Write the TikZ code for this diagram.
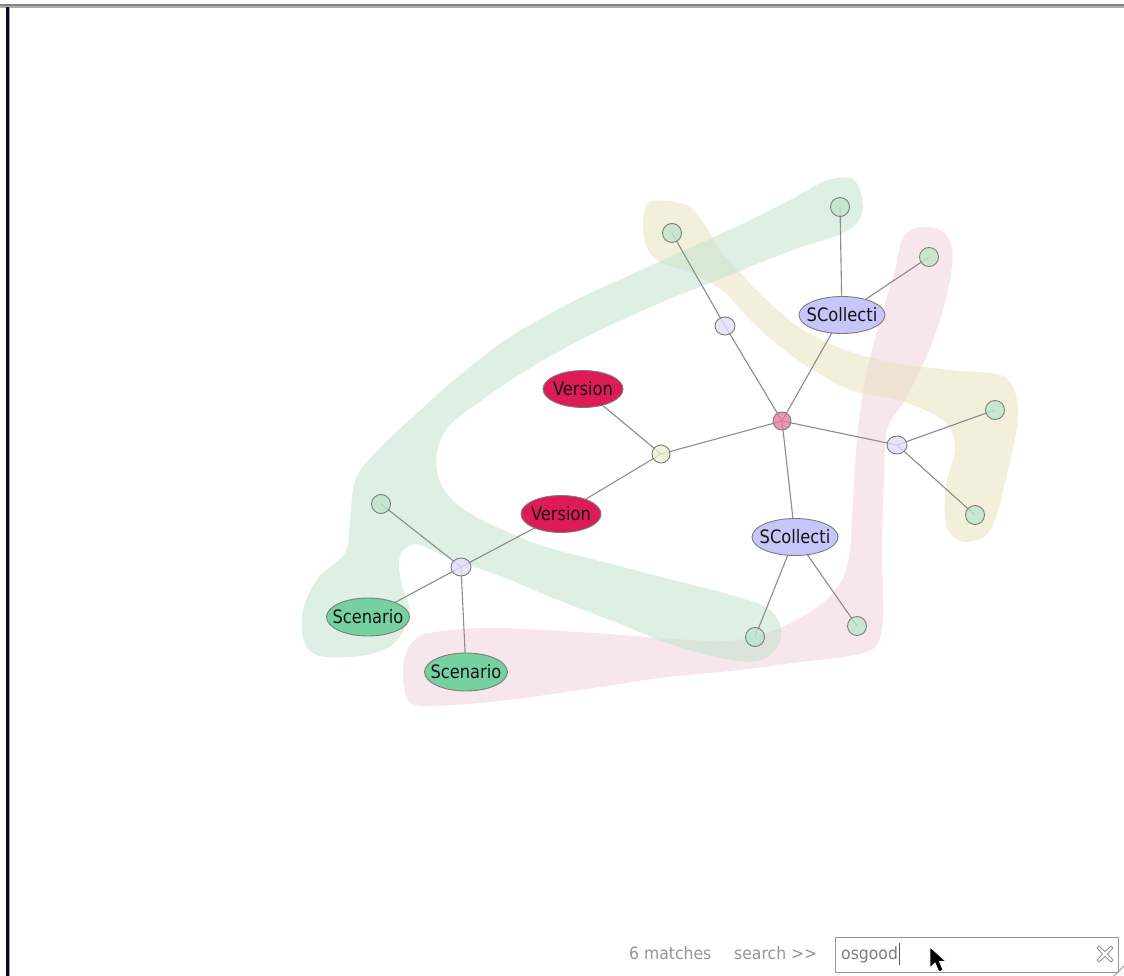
\documentclass[tikz,border=0pt]{standalone}
\usepackage{fontspec}
\usetikzlibrary{shapes.geometric}
\newfontfamily\lblfont[FakeStretch=0.88]{DejaVu Sans}
\newfontfamily\uifont[FakeStretch=0.92]{DejaVu Sans}
\newcommand{\lbl}[1]{\makebox[0pt][c]{#1}}
\definecolor{edgegray}{RGB}{140,140,140}
\definecolor{nodeborder}{RGB}{125,125,125}
\definecolor{labeltext}{RGB}{20,20,20}
\definecolor{versionred}{RGB}{221,28,86}
\definecolor{scollblue}{RGB}{198,198,250}
\definecolor{scengreen}{RGB}{118,208,160}
\definecolor{dotgreen}{RGB}{190,230,205}
\definecolor{dotlav}{RGB}{222,222,250}
\definecolor{dotpink}{RGB}{232,125,158}
\definecolor{dotyellow}{RGB}{232,240,210}
\definecolor{blobgreen}{RGB}{195,227,205}
\definecolor{blobyellow}{RGB}{233,226,190}
\definecolor{blobpink}{RGB}{244,210,224}
\definecolor{uigray}{RGB}{150,150,150}
\definecolor{framenavy}{RGB}{8,8,40}
\pgfdeclarelayer{paper}
\pgfdeclarelayer{blobs}
\pgfdeclarelayer{edges}
\pgfsetlayers{paper,blobs,edges,main}
\tikzset{
  conn/.style={draw=edgegray, line width=1.1pt},
  bigell/.style={ellipse, draw=nodeborder, line width=0.9pt, minimum width=80pt, minimum height=37pt, inner sep=0pt, text=labeltext, font=\lblfont\fontsize{18.5}{22}\selectfont},
  dotnode/.style={circle, draw=nodeborder, line width=0.9pt, minimum size=19pt, inner sep=0pt, fill opacity=0.8},
  lavnode/.style={ellipse, draw=nodeborder, line width=0.9pt, minimum width=20pt, minimum height=18pt, inner sep=0pt, fill=dotlav, fill opacity=0.8},
  blob/.style={fill opacity=0.55},
  uitext/.style={anchor=base west, inner sep=0pt, text=uigray, font=\uifont\fontsize{17}{20}\selectfont},
}
\begin{document}
\begin{tikzpicture}[x=1pt,y=-1pt]
\useasboundingbox (0,0) rectangle (1124,976);
\begin{pgfonlayer}{paper}
\fill[white] (0,0) rectangle (1124,976);
\end{pgfonlayer}
% frame
\draw[color={rgb,255:red,130;green,130;blue,130}, line width=1.2pt] (0,5) -- (1124,5);
\draw[color={rgb,255:red,175;green,175;blue,175}, line width=1.2pt] (0,7) -- (1124,7);
\fill[framenavy] (5.5,7.5) rectangle (9,976);
\draw[color={rgb,255:red,160;green,160;blue,160}, line width=0.8pt] (9.5,7.5) -- (9.5,976);

% nodes
\node[dotnode, fill=dotgreen] (g1) at (672,233) {};
\node[dotnode, fill=dotgreen] (g2) at (840,207) {};
\node[dotnode, fill=dotgreen] (g3) at (929,257) {};
\node[bigell, fill=scollblue, minimum width=86pt] (sc1) at (842,315) {\lbl{SCollecti}};
\node[lavnode] (l1) at (725,326) {};
\node[dotnode, fill=dotpink, minimum size=18pt] (hub) at (782,421) {};
\node[bigell, fill=versionred] (v1) at (583,389) {\lbl{Version}};
\node[dotnode, fill=dotyellow, minimum size=18pt] (y1) at (661,454) {};
\node[bigell, fill=versionred] (v2) at (561,514) {\lbl{Version}};
\node[lavnode] (l2) at (897,445) {};
\node[dotnode, fill=dotgreen] (g4) at (995,410) {};
\node[dotnode, fill=dotgreen] (g5) at (975,515) {};
\node[bigell, fill=scollblue, minimum width=86pt] (sc2) at (795,537) {\lbl{SCollecti}};
\node[dotnode, fill=dotgreen] (g6) at (755,637) {};
\node[dotnode, fill=dotgreen] (g7) at (857,626) {};
\node[dotnode, fill=dotgreen] (g8) at (381,504) {};
\node[lavnode] (l3) at (461,567) {};
\node[bigell, fill=scengreen, minimum width=83pt, minimum height=38pt] (s1) at (368,617) {\lbl{Scenario}};
\node[bigell, fill=scengreen, minimum width=83pt, minimum height=38pt] (s2) at (466,672) {\lbl{Scenario}};

% edges
\begin{pgfonlayer}{edges}
\draw[conn] (g1.center) -- (l1.center);
\draw[conn] (l1.center) -- (hub.center);
\draw[conn] (sc1.center) -- (g2.center);
\draw[conn] (sc1.center) -- (g3.center);
\draw[conn] (sc1.center) -- (hub.center);
\draw[conn] (hub.center) -- (y1.center);
\draw[conn] (hub.center) -- (l2.center);
\draw[conn] (hub.center) -- (sc2.center);
\draw[conn] (y1.center) -- (v1.center);
\draw[conn] (y1.center) -- (v2.center);
\draw[conn] (v2.center) -- (l3.center);
\draw[conn] (l3.center) -- (g8.center);
\draw[conn] (l3.center) -- (s1.center);
\draw[conn] (l3.center) -- (s2.center);
\draw[conn] (l2.center) -- (g4.center);
\draw[conn] (l2.center) -- (g5.center);
\draw[conn] (sc2.center) -- (g6.center);
\draw[conn] (sc2.center) -- (g7.center);
\end{pgfonlayer}

% blobs
\begin{pgfonlayer}{blobs}
\fill[blob, blobpink] plot[smooth cycle, tension=0.55] coordinates {
 (915,228) (940,230) (952,248) (950,280) (940,320) (925,360) (905,400) (887,430)
 (884,480) (882,550) (883,620) (875,647) (850,656) (800,662) (740,670) (660,678)
 (580,690) (500,701) (430,706) (408,700) (403,670) (410,645) (430,633) (490,628)
 (580,632) (660,638) (730,641) (780,628) (820,605) (842,580) (850,550) (853,500)
 (857,440) (865,380) (880,320) (895,270) (902,240)};
\fill[blob, blobyellow] plot[smooth cycle, tension=0.55] coordinates {
 (648,203) (668,201) (690,207) (705,225) (720,250) (745,278) (770,303) (800,328)
 (840,348) (890,362) (950,370) (1000,375) (1015,392) (1018,420) (1008,470) (995,520)
 (982,538) (960,541) (946,525) (946,485) (955,450) (948,425) (925,410) (890,398)
 (850,390) (805,365) (778,345) (750,320) (722,290) (690,272) (660,262) (647,248) (643,225)};
\fill[blob, blobgreen] plot[smooth cycle, tension=0.55] coordinates {
 (850,178) (825,181) (790,200) (740,225) (690,248) (630,275) (570,303) (510,337)
 (460,375) (415,415) (380,448) (356,478) (350,520) (345,553) (318,578) (303,610)
 (304,642) (320,656) (360,656) (392,645) (410,615) (401,582) (400,556) (415,544)
 (445,556) (505,578) (558,600) (615,622) (673,645) (725,659) (757,661) (777,648)
 (781,628) (770,610) (742,598) (673,580) (596,560) (540,545) (490,524) (458,505)
 (440,482) (437,452) (450,425) (485,398) (530,368) (590,335) (660,303) (720,279)
 (790,251) (845,232) (862,214) (860,190)};
\end{pgfonlayer}

% search bar
\node[uitext] (matches) at (629,959) {6 matches};
\node[uitext] (searchlbl) at (734,959) {search >>};
\draw[color=uigray, line width=1pt] (835,937) rectangle (1118,972);
\node[uitext, text={rgb,255:red,125;green,125;blue,125}] (query) at (841,959) {osgood};
\draw[color={rgb,255:red,90;green,90;blue,90}, line width=1pt] ([xshift=1.5pt]query.base east) ++(0,-16) -- ++(0,22);
% clear icon
\draw[color=uigray, line width=0.9pt, line join=round]
  (1097,948) -- (1099,946) -- (1105,951.5) -- (1111,946) -- (1113,948) -- (1107.5,954)
  -- (1113,960) -- (1111,962) -- (1105,956.5) -- (1099,962) -- (1097,960) -- (1102.5,954) -- cycle;
\draw[color=uigray, line width=0.8pt] (1114,976) -- (1124,966);
% mouse pointer
\fill[black, draw=white, line width=0.8pt, line join=miter]
  (930,947) -- (930,968) -- (935,963) -- (939,972) -- (943,970) -- (939.5,961.5) -- (946,961.5) -- cycle;
\end{tikzpicture}
\end{document}
